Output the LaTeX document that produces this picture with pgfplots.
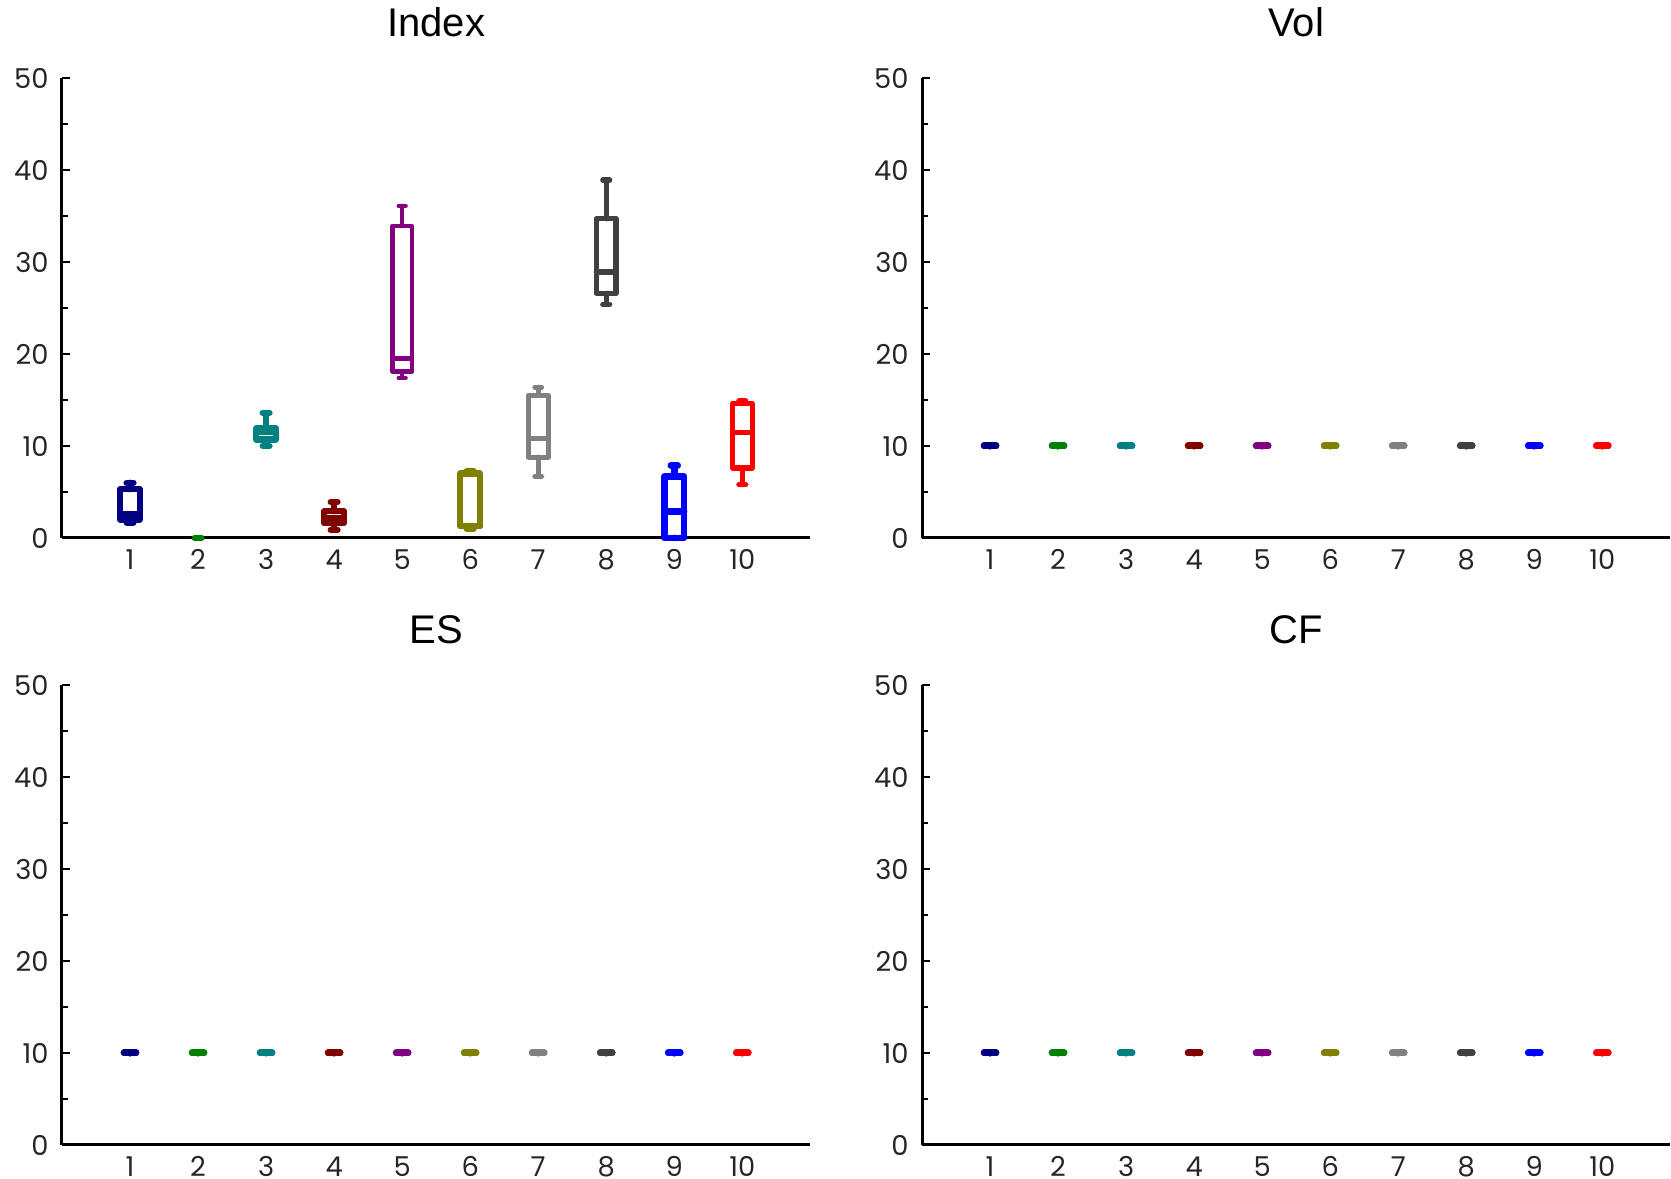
\documentclass[border=0pt]{standalone}
\usepackage{fontspec}
\setmainfont{Liberation Sans}
\newfontfamily\tickfont{Poppins}
\usepackage{pgfplots}
\pgfplotsset{compat=1.18}
\usepgfplotslibrary{statistics}
\definecolor{c1}{HTML}{000080}
\definecolor{c2}{HTML}{008000}
\definecolor{c3}{HTML}{008080}
\definecolor{c4}{HTML}{800000}
\definecolor{c5}{HTML}{800080}
\definecolor{c6}{HTML}{808000}
\definecolor{c7}{HTML}{808080}
\definecolor{c8}{HTML}{404040}
\definecolor{c9}{HTML}{0000FF}
\definecolor{c10}{HTML}{FF0000}
\pgfplotsset{panel/.style={
  width=224.5pt, height=138pt, scale only axis,
  xmin=0, xmax=11, ymin=0, ymax=50,
  axis x line=bottom, axis y line=left,
  axis line style={line width=0.9pt, -},
  xtick={1,...,10}, ytick={0,10,...,50}, minor ytick={5,15,...,45},
  tick align=inside,
  major tick length=2.5pt, minor tick length=1.8pt,
  x tick style={draw=none},
  y tick style={line width=0.5pt, black},
  tick label style={font=\tickfont\fontsize{8.2}{9}\selectfont, text=black!85},
  yticklabel style={xshift=-0.5pt},
  /pgf/number format/assume math mode=true,
  clip=false,
  title style={font=\fontsize{12}{13}\selectfont, anchor=base, at={(0.5,1)}, yshift=6.6pt},
  boxplot/draw direction=y,
  boxplot/box extend=0.29, boxplot/whisker extend=0.1,
}}
% draw position, lower whisker, lower quartile, median, upper quartile, upper whisker, colour, line width
\newcommand{\bx}[8]{\addplot[boxplot prepared={draw position=#1, lower whisker=#2, lower quartile=#3, median=#4, upper quartile=#5, upper whisker=#6}, draw=#7, solid, line width=#8, line cap=round, line join=round] coordinates {};}
\newcommand{\flatbx}[2]{\addplot[boxplot prepared={draw position=#1, lower whisker=10, lower quartile=10, median=10, upper quartile=10, upper whisker=10, box extend=0.17, whisker extend=0.1}, draw=#2, solid, line width=2.1pt, line cap=round, line join=round] coordinates {};}
\newcommand{\flatset}{%
  \flatbx{1}{c1}\flatbx{2}{c2}\flatbx{3}{c3}\flatbx{4}{c4}\flatbx{5}{c5}%
  \flatbx{6}{c6}\flatbx{7}{c7}\flatbx{8}{c8}\flatbx{9}{c9}\flatbx{10}{c10}}
\begin{document}
\begin{tikzpicture}
\useasboundingbox (0,0) rectangle (501.3pt,-353.7pt);
\begin{axis}[panel, at={(18.6pt,-23.4pt)}, anchor=north west, title=Index]
\bx{1}{1.7}{2.0}{2.6}{5.3}{6.0}{c1}{1.9pt}
\addplot[boxplot prepared={draw position=2, lower whisker=0, lower quartile=0, median=0, upper quartile=0, upper whisker=0, box extend=0.11, whisker extend=0.08}, draw=c2, solid, line width=1.6pt, line cap=round] coordinates {};
\bx{3}{10.0}{10.7}{11.5}{11.9}{13.6}{c3}{1.9pt}
\bx{4}{0.9}{1.6}{2.1}{2.9}{3.9}{c4}{1.9pt}
\bx{5}{17.4}{18.1}{19.5}{33.9}{36.1}{c5}{1.35pt}
\bx{6}{1.0}{1.3}{1.3}{7.0}{7.3}{c6}{1.9pt}
\bx{7}{6.7}{8.8}{10.8}{15.5}{16.4}{c7}{1.5pt}
\bx{8}{25.4}{26.6}{28.9}{34.7}{38.9}{c8}{1.6pt}
\bx{9}{0}{0}{2.9}{6.7}{7.9}{c9}{2.0pt}
\bx{10}{5.8}{7.6}{11.5}{14.6}{14.9}{c10}{1.6pt}
\end{axis}
\begin{axis}[panel, at={(276.6pt,-23.4pt)}, anchor=north west, title=Vol]
\flatset
\end{axis}
\begin{axis}[panel, at={(18.6pt,-205.5pt)}, anchor=north west, title=ES]
\flatset
\end{axis}
\begin{axis}[panel, at={(276.6pt,-205.5pt)}, anchor=north west, title=CF]
\flatset
\end{axis}
\end{tikzpicture}
\end{document}
